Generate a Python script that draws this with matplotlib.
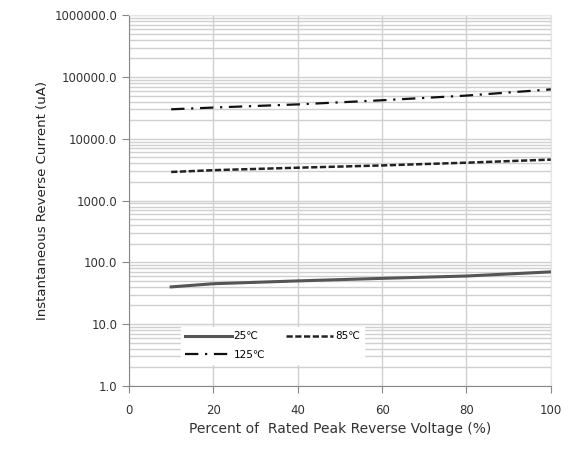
import numpy as np
import matplotlib
matplotlib.use("Agg")
import matplotlib.pyplot as plt
from matplotlib.ticker import FixedLocator, LogLocator, FuncFormatter

# percent of rated peak reverse voltage
volt_pct = [10, 20, 40, 60, 80, 100]
# reverse current (uA) per temperature
cur_25 = [40, 45, 50, 55, 60, 70]
cur_85 = [2900, 3100, 3400, 3700, 4100, 4600]
cur_125 = [30000, 32000, 36000, 42000, 50000, 63000]
y_ticks = [1, 10, 100, 1000, 10000, 100000, 1000000]
x_ticks = [0, 20, 40, 60, 80, 100]

fig = plt.figure(figsize=(5.72, 4.61), dpi=100)
ax = fig.add_axes([0.2255, 0.163, 0.7375, 0.804])

l25, = ax.plot(volt_pct, cur_25, color="#555555", lw=2.2, label="25\u2103")
l85, = ax.plot(volt_pct, cur_85, color="#222222", lw=1.8, ls=(0, (2.5, 1)), label="85\u2103")
l125, = ax.plot(volt_pct, cur_125, color="#111111", lw=1.6, ls=(0, (6, 3, 1, 3)), label="125\u2103")

ax.set_yscale("log")
ax.set_ylim(1, 1e6)
ax.set_xlim(0, 100)
ax.yaxis.set_major_locator(FixedLocator(y_ticks))
ax.yaxis.set_minor_locator(LogLocator(base=10, subs=np.arange(2, 10)))
ax.yaxis.set_major_formatter(FuncFormatter(lambda v, p: f"{v:.1f}"))
ax.set_xticks(x_ticks)

ax.grid(True, which="both", axis="y", color="#d0d0d0", lw=1.0)
ax.grid(True, which="major", axis="x", color="#d0d0d0", lw=1.0)
ax.tick_params(which="minor", length=0)
ax.tick_params(which="major", length=5, color="#888888", labelsize=8.5, labelcolor="#333333")
ax.tick_params(axis="x", pad=8)

for s in ["top", "right"]:
    ax.spines[s].set_color("#e6e6e6")
for s in ["left", "bottom"]:
    ax.spines[s].set_color("#888888")

ax.set_xlabel("Percent of  Rated Peak Reverse Voltage (%)", fontsize=10, color="#333333")
ax.set_ylabel("Instantaneous Reverse Current (uA)", fontsize=9.5, color="#222222", labelpad=4)

leg = ax.legend(handles=[l25, l125, l85], loc="lower left", bbox_to_anchor=(0.11, 0.045),
                ncol=2, fontsize=7.5, frameon=True, fancybox=False, edgecolor="white",
                framealpha=1, handlelength=4.5, columnspacing=2.0, handletextpad=0.2,
                labelspacing=0.8)

fig.savefig("out.png", dpi=100)
